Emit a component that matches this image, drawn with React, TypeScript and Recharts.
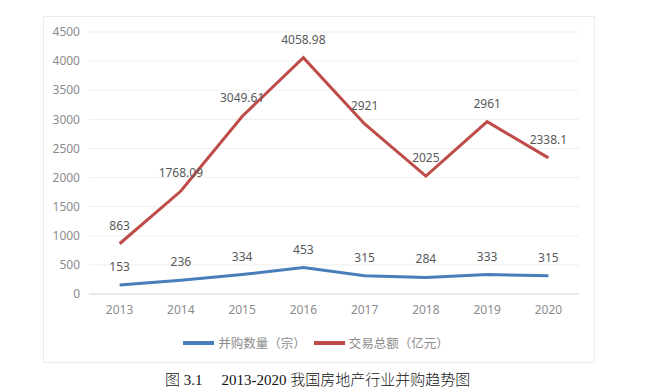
import React from 'react';
import { LineChart, Line, XAxis, YAxis, CartesianGrid, LabelList } from 'recharts';

const years = ['2013', '2014', '2015', '2016', '2017', '2018', '2019', '2020'];
const dealCounts = [153, 236, 334, 453, 315, 284, 333, 315];
const dealAmounts = [863, 1768.09, 3049.61, 4058.98, 2921, 2025, 2961, 2338.1];
const yTicks = [0, 500, 1000, 1500, 2000, 2500, 3000, 3500, 4000, 4500];
const seriesNames = ['并购数量（宗）', '交易总额（亿元）'];
const captionLabel = '图 3.1';
const captionText = '2013-2020 我国房地产行业并购趋势图';

const data = years.map((y, i) => ({ year: y, count: dealCounts[i], amount: dealAmounts[i] }));

const BLUE = '#4a7ebb';
const RED = '#be4b48';
const FONT = "'Noto Sans', 'Noto Sans CJK SC', sans-serif";

export default function App() {
  return (
    <div style={{ position: 'absolute', left: 0, top: 0, width: 648, height: 391, background: '#fff', fontFamily: FONT }}>
      <div style={{ position: 'absolute', left: 43, top: 16, width: 552, height: 347, border: '1px solid #ececec', boxSizing: 'border-box' }}>
        <div style={{ position: 'absolute', left: -1, top: -1 }}>
          <LineChart width={552} height={347} data={data} margin={{ top: 16, right: 16, bottom: 39, left: 6 }}>
            <CartesianGrid vertical={false} stroke="#efefef" />
            <XAxis
              dataKey="year"
              height={30}
              tickLine={false}
              axisLine={{ stroke: '#d9d9d9' }}
              tickSize={0}
              tickMargin={11}
              padding={{ left: 30.6, right: 30.6 }}
              tick={{ fill: '#8c8c8c', fontSize: 12, fontFamily: FONT }}
              interval={0}
            />
            <YAxis
              width={40}
              domain={[0, 4500]}
              ticks={yTicks}
              tickLine={false}
              axisLine={false}
              tickSize={0}
              tickMargin={9}
              tick={{ fill: '#8c8c8c', fontSize: 12, fontFamily: FONT }}
            />
            <Line type="linear" dataKey="count" stroke={BLUE} strokeWidth={3} dot={false} isAnimationActive={false}>
              <LabelList dataKey="count" position="top" offset={14} fill="#595959" fontSize={12} fontFamily={FONT} />
            </Line>
            <Line type="linear" dataKey="amount" stroke={RED} strokeWidth={3} dot={false} isAnimationActive={false}>
              <LabelList dataKey="amount" position="top" offset={14} fill="#595959" fontSize={12} fontFamily={FONT} />
            </Line>
          </LineChart>
        </div>
        <div style={{ position: 'absolute', left: 0, width: 552, top: 316, display: 'flex', justifyContent: 'center', alignItems: 'center', fontSize: 12.5, color: '#8c8c8c' }}>
          <div style={{ width: 31, height: 4, background: BLUE, marginRight: 4, marginLeft: -8 }} />
          <span style={{ marginRight: 8 }}>{seriesNames[0]}</span>
          <div style={{ width: 31, height: 4, background: RED, marginRight: 4 }} />
          <span>{seriesNames[1]}</span>
        </div>
      </div>
      <div style={{ position: 'absolute', left: 165, top: 372, whiteSpace: 'nowrap', fontFamily: "'Liberation Serif', 'Noto Sans CJK SC', serif", fontSize: 15, lineHeight: '16px', fontWeight: 300, color: '#111' }}>
        <span>{captionLabel}</span>
        <span style={{ marginLeft: 19 }}>{captionText}</span>
      </div>
    </div>
  );
}
